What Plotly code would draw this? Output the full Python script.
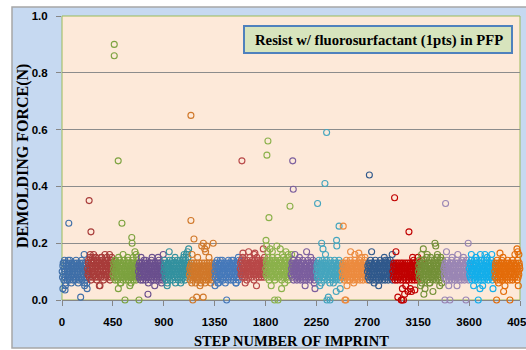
import plotly.graph_objects as go

# ---------------- data ----------------
group_size = 225
x_tick_labels = ["0", "450", "900", "1350", "1800", "2250", "2700", "3150", "3600", "4050"]
x_tick_vals = [0, 450, 900, 1350, 1800, 2250, 2700, 3150, 3600, 4050]
y_tick_vals = [0.0, 0.2, 0.4, 0.6, 0.8, 1.0]
y_tick_labels = ["0.0", "0.2", "0.4", "0.6", "0.8", "1.0"]

colors = ["#3F6FA8", "#A83C3A", "#7CA23F", "#6A4F8E", "#33919F", "#D0782A",
          "#4679BA", "#B84848", "#8BB14B", "#7B5E9E", "#45A5BE", "#EC8B3F",
          "#30598C", "#C00000", "#739038", "#9A86B4", "#14AEEA", "#E36C0A"]

# dense core readings per group of 225 imprints (force in 1/100 N)
core_g01 = "10 08 12 13 09 07 11 14 10 08 06 12 13 09 11 07 10 12 08 13 09 11 07 14 10 12 08 06 11 13 09 10 07 12 08 13 11 09 10 07 12 14 08 11 13 09 10 06 12 08 07 11 13 10 09 12 08 14 11 07 10 13 09 12 08 11 06 10 13 07 12 09 11 08 10"
core_g02 = "11 09 13 14 10 08 12 15 11 09 07 13 14 10 12 08 11 13 09 14 10 12 08 15 11 13 09 07 12 14 10 11 08 13 09 14 12 10 11 08 13 15 09 12 14 10 11 07 13 09 08 12 14 11 10 13 09 15 12 08 11 14 10 13 09 12 07 11 14 08 13 10 12 09 11"
core_g03 = "09 11 13 08 12 10 07 14 09 11 13 08 10 12 07 13 09 11 08 14 10 12 06 09 13 11 08 10 12 07 13 09 11 14 08 10 12 09 07 13 11 08 10 12 14 09 07 11 13 08 10 12 09 06 11 13 08 10 14 12 07 09 11 13 08 10 12 09 07 13 11 08 10 12 09"
core_g04 = "10 12 08 13 09 11 07 12 10 08 13 11 09 07 12 10 14 08 11 13 09 10 07 12 08 11 13 09 10 06 12 08 11 13 10 09 07 12 14 08 10 11 13 09 07 12 10 08 11 13 09 10 12 07 08 11 13 10 09 12 14 08 07 11 10 13 09 12 08 10 11 07 13 09 12"
core_g05 = "10 12 14 08 11 09 13 07 10 12 06 11 13 09 08 12 14 10 07 11 13 09 12 08 10 14 11 07 09 13 12 10 08 11 06 13 09 12 10 14 08 11 07 13 10 09 12 14 08 11 10 13 07 09 12 11 14 08 10 13 09 12 07 11 14 10 08 13 12 09 11 15 10 12 13"
core_g06 = "09 11 07 12 10 08 13 06 11 09 12 07 10 13 08 11 09 12 06 10 08 13 11 07 09 12 10 08 11 13 07 09 12 10 06 11 08 13 09 12 07 10 11 08 13 09 06 12 10 07 11 09 13 08 12 10 07 11 09 13 08 10 12 06 09 11 13 07 10 12 08 11 09 13 10"
core_g07 = "10 08 12 13 09 11 07 14 10 12 08 06 11 13 09 10 12 07 08 13 11 09 14 10 12 07 08 11 13 09 10 06 12 08 11 13 09 10 07 12 14 08 11 09 13 10 12 07 08 11 13 09 10 12 14 07 08 11 13 09 10 12 06 11 08 13 09 10 12 07 11 14 08 10 09"
core_g08 = "11 13 09 14 10 12 08 15 11 09 13 10 12 08 14 11 09 13 10 07 12 14 11 09 13 08 10 12 15 11 09 13 10 08 12 14 11 10 13 09 07 12 14 10 11 09 13 08 12 15 10 11 09 14 12 08 13 10 11 09 14 12 08 10 13 11 09 12 14 10 08 13 11 12 09"
core_g09 = "11 09 13 14 10 08 12 15 11 09 07 13 14 10 12 08 11 13 09 15 10 12 08 14 11 13 09 07 12 14 10 11 08 13 09 15 12 10 11 08 13 14 09 12 14 10 11 07 13 09 08 12 15 11 10 13 09 14 12 08 11 14 10 13 09 12 07 11 15 08 13 10 12 09 11"
core_g10 = "09 11 13 08 12 10 14 07 11 09 13 10 12 08 11 13 09 07 12 10 14 08 11 13 09 10 12 07 08 11 13 09 12 10 14 08 07 11 13 10 09 12 08 11 13 07 10 12 09 14 08 11 10 13 09 12 07 11 08 13 10 12 09 11 14 08 10 13 07 12 09 11 10 13 08"
core_g11 = "10 12 08 13 11 09 07 14 10 12 08 11 13 09 06 12 10 14 08 11 13 09 07 12 10 08 13 11 09 14 12 10 07 08 11 13 09 12 10 06 14 08 11 13 09 12 10 07 11 08 13 09 12 14 10 08 11 13 07 09 12 10 08 11 13 09 14 12 10 07 11 08 13 09 12"
core_g12 = "10 08 12 13 09 11 07 12 10 08 13 11 09 14 12 10 07 08 11 13 09 10 12 07 14 08 11 13 09 10 12 08 11 07 13 09 10 12 14 08 11 09 13 07 10 12 08 11 13 09 10 14 12 07 08 11 13 09 10 12 08 11 07 13 09 10 12 14 08 11 09 13 10 12 07"
core_g13 = "10 12 08 11 13 09 07 12 10 14 08 11 13 09 10 07 12 08 11 13 09 10 12 14 07 08 11 13 10 09 12 08 11 07 13 10 09 12 14 08 11 13 09 10 07 12 08 11 13 09 10 12 07 14 08 11 13 09 10 12 08 07 11 13 09 10 12 14 08 11 09 13 10 07 12"
core_g14 = "10 08 12 13 09 11 07 12 10 08 13 11 09 07 12 10 13 08 11 09 12 10 07 13 08 11 09 12 10 13 07 08 11 12 09 10 13 08 11 07 12 09 10 13 11 08 12 07 09 10 13 11 08 12 09 10 07 13 11 08 12 10 09 13 07 11 08 12 10 09 13 11 07 08 12"
core_g15 = "10 12 08 14 11 09 13 07 10 12 06 11 13 09 08 12 14 10 07 11 13 09 12 08 10 15 11 07 09 13 12 10 08 11 06 13 09 12 10 14 08 11 07 13 10 09 12 14 08 11 10 13 07 09 12 11 15 08 10 13 09 12 07 11 14 10 08 13 12 06 11 14 10 12 09"
core_g16 = "11 09 12 08 13 10 07 12 11 14 09 10 13 08 11 07 12 09 10 13 08 11 12 14 07 09 10 13 11 08 12 09 10 07 13 11 08 12 14 09 10 13 08 11 07 12 09 10 13 08 11 12 07 14 09 10 13 08 11 12 09 07 10 13 08 11 12 14 09 10 08 13 11 07 12"
core_g17 = "11 09 13 08 12 10 14 07 11 09 13 10 12 08 11 14 09 07 12 10 13 08 11 14 09 10 12 07 08 11 13 09 12 10 14 08 07 11 13 10 09 12 08 11 14 07 10 12 09 13 08 11 10 14 09 12 07 11 08 13 10 12 09 11 14 08 10 13 07 12 09 11 10 13 08"
core_g18 = "10 08 12 13 09 11 07 14 10 12 08 11 13 09 10 12 07 08 13 11 09 14 10 12 07 08 11 13 09 10 12 08 11 13 09 10 07 12 14 08 11 09 13 10 12 07 08 11 13 09 10 12 14 07 08 11 13 09 10 12 08 11 13 09 10 12 07 11 14 08 10 09 13 12 11"
core_strings = [core_g01, core_g02, core_g03, core_g04, core_g05, core_g06,
                core_g07, core_g08, core_g09, core_g10, core_g11, core_g12,
                core_g13, core_g14, core_g15, core_g16, core_g17, core_g18]

# scattered readings (step number, force N) per group
outlier_steps = [
    [60, 165, 196, 55, 15, 8, 222, 220, 30, 27, 200],
    [240, 256, 336, 250, 270, 300, 380, 350, 420, 440, 280, 330],
    [462, 462, 497, 530, 617, 620, 645, 655, 557, 681, 498, 500, 540, 580, 630, 470, 660, 600, 520],
    [760, 796, 895, 700, 850, 880, 740, 820],
    [948, 1120, 1100, 1080, 1000, 930, 1050, 1110, 1075],
    [1140, 1140, 1167, 1236, 1250, 1262, 1280, 1337, 1157, 1191, 1249, 1270, 1300, 1150, 1200, 1220],
    [1456, 1353, 1559, 1400, 1500, 1380, 1540],
    [1591, 1600, 1650, 1706, 1780, 1790, 1620, 1720, 1700],
    [1812, 1821, 1830, 2016, 1804, 1880, 1910, 1810, 1840, 1860, 1900, 1930, 1950, 1980, 2000, 2030, 1820, 1850, 1942, 1970],
    [2040, 2045, 2163, 2237, 2200, 2100, 2060, 2150, 2230],
    [2340, 2325, 2260, 2450, 2296, 2308, 2428, 2430, 2343, 2370, 2355, 2425, 2460, 2280, 2400, 2330],
    [2487, 2502, 2510, 2552, 2590, 2625, 2650, 2520, 2580, 2680],
    [2718, 2738, 2920, 2760, 2850, 2880, 2800],
    [2941, 3068, 2953, 2970, 3005, 3020, 3030, 3060, 3090, 3000, 3100, 3110, 3147, 3180, 3040, 3080, 3010, 3120],
    [3195, 3298, 3305, 3180, 3230, 3260, 3320, 3350, 3200, 3210, 3170, 3250, 3280, 3340],
    [3392, 3400, 3386, 3430, 3572, 3592, 3493, 3450, 3500, 3550, 3420],
    [3681, 3696, 3811, 3620, 3660, 3700, 3740, 3760, 3800, 3640, 3720],
    [4023, 4030, 3873, 3843, 3961, 3905, 3917, 4040, 4005, 3900, 4035, 3860],
]
outlier_vals = [
    [0.27, 0.01, 0.16, 0.14, 0.13, 0.04, 0.04, 0.06, 0.05, 0.035, 0.05],
    [0.35, 0.24, 0.05, 0.16, 0.15, 0.15, 0.16, 0.15, 0.16, 0.15, 0.16, 0.05],
    [0.90, 0.86, 0.49, 0.27, 0.22, 0.20, 0.17, 0.16, 0.0, 0.0, 0.04, 0.15, 0.16, 0.15, 0.15, 0.14, 0.15, 0.05, 0.06],
    [0.02, 0.15, 0.16, 0.15, 0.15, 0.06, 0.14, 0.05],
    [0.17, 0.18, 0.16, 0.16, 0.15, 0.05, 0.06, 0.17, 0.15],
    [0.65, 0.28, 0.215, 0.19, 0.20, 0.18, 0.19, 0.20, 0.0, 0.01, 0.01, 0.17, 0.15, 0.16, 0.15, 0.05],
    [0.0, 0.05, 0.15, 0.14, 0.14, 0.06, 0.06],
    [0.49, 0.165, 0.17, 0.165, 0.18, 0.15, 0.06, 0.05, 0.16],
    [0.51, 0.56, 0.29, 0.33, 0.21, 0.0, 0.0, 0.19, 0.18, 0.17, 0.19, 0.18, 0.16, 0.17, 0.16, 0.16, 0.17, 0.05, 0.04, 0.06],
    [0.49, 0.39, 0.17, 0.04, 0.15, 0.15, 0.16, 0.05, 0.06],
    [0.59, 0.41, 0.34, 0.26, 0.20, 0.18, 0.21, 0.19, 0.0, 0.0, 0.01, 0.03, 0.04, 0.05, 0.06, 0.16],
    [0.26, 0.0, 0.0, 0.17, 0.16, 0.165, 0.15, 0.05, 0.06, 0.15],
    [0.44, 0.17, 0.16, 0.06, 0.15, 0.14, 0.05],
    [0.36, 0.24, 0.17, 0.01, 0.0, 0.0, 0.02, 0.03, 0.03, 0.0, 0.15, 0.14, 0.15, 0.14, 0.05, 0.04, 0.04, 0.035],
    [0.18, 0.20, 0.19, 0.16, 0.16, 0.15, 0.16, 0.15, 0.02, 0.04, 0.05, 0.06, 0.03, 0.05],
    [0.34, 0.17, 0.0, 0.0, 0.0, 0.20, 0.05, 0.15, 0.16, 0.15, 0.05],
    [0.0, 0.04, 0.04, 0.16, 0.15, 0.16, 0.16, 0.15, 0.16, 0.05, 0.05],
    [0.18, 0.17, 0.165, 0.0, 0.0, 0.03, 0.05, 0.16, 0.16, 0.15, 0.05, 0.06],
]

# ---------------- figure ----------------
fig = go.Figure()
for g, s in enumerate(core_strings):
    vals = [int(v) / 100 for v in s.split()]
    n = len(vals)
    xs = [g * group_size + (i + 0.5) * group_size / n for i in range(n)]
    xs += outlier_steps[g]
    ys = vals + outlier_vals[g]
    fig.add_trace(go.Scatter(
        x=xs, y=ys, mode="markers", showlegend=False, cliponaxis=False,
        marker=dict(symbol="circle-open", size=6, color=colors[g],
                    line=dict(width=1.1, color=colors[g])),
    ))

# the page body margin is removed (post_script), so window pixel = figure pixel
W, H = 526, 350
win_left, win_right, win_top, win_bottom = 62, 520, 16, 300
ml, mt = win_left, win_top
mr, mb = W - win_right, H - win_bottom
pw, ph = W - ml - mr, H - mt - mb


def px(wx):
    return (wx - ml) / pw


def py(wy):
    return (H - mb - wy) / ph


fig.update_layout(
    width=W, height=H, autosize=False,
    margin=dict(l=ml, r=mr, t=mt, b=mb, pad=0, autoexpand=False),
    paper_bgcolor="white", plot_bgcolor="rgba(0,0,0,0)",
    shapes=[
        dict(type="rect", xref="paper", yref="paper", x0=px(12), x1=px(560), y0=py(348), y1=py(7),
             fillcolor="#C6D9F1", line=dict(color="#A6A6A6", width=1.5), layer="below"),
        dict(type="rect", xref="paper", yref="paper", x0=0, x1=1, y0=0, y1=1,
             fillcolor="#FDE9D9", line=dict(width=0), layer="below"),
        dict(type="rect", xref="paper", yref="paper", x0=0, x1=1, y0=0, y1=1,
             fillcolor="rgba(0,0,0,0)", line=dict(color="#9BBB59", width=1), layer="between"),
        dict(type="rect", xref="paper", yref="paper", x0=px(244), x1=px(512), y0=py(53), y1=py(26),
             fillcolor="#D7E4BD", line=dict(color="#4F81BD", width=2), layer="above"),
    ],
    xaxis=dict(range=[0, 4050], tickvals=x_tick_vals, ticktext=x_tick_labels, automargin=False,
               ticks="outside", ticklen=5, tickcolor="#868686", showgrid=False, zeroline=False,
               showline=True, linecolor="#868686", linewidth=1, layer="below traces",
               tickfont=dict(family="Liberation Sans", size=11.5, color="black", weight="bold"),
               ticklabelstandoff=6, ticklabeloverflow="allow"),
    yaxis=dict(range=[0, 1], tickvals=y_tick_vals, ticktext=y_tick_labels, automargin=False,
               ticks="outside", ticklen=5, tickcolor="#868686", showgrid=True, gridcolor="#8C8C8C",
               gridwidth=1, zeroline=False, showline=False, layer="below traces",
               tickfont=dict(family="Liberation Sans", size=11.5, color="black", weight="bold"),
               ticklabelstandoff=6, ticklabeloverflow="allow"),
    annotations=[
        dict(text="Resist w/ fluorosurfactant (1pts) in PFP", xref="paper", yref="paper",
             x=px(379), y=py(40), xanchor="center", yanchor="middle", showarrow=False,
             font=dict(family="Liberation Serif", size=14.7, color="black", weight="bold")),
        dict(text="DEMOLDING FORCE(N)", xref="paper", yref="paper", x=px(23), y=py(156),
             xanchor="center", yanchor="middle", textangle=-90, showarrow=False,
             font=dict(family="Liberation Serif", size=16, color="black", weight="bold")),
        dict(text="STEP NUMBER OF IMPRINT", xref="paper", yref="paper", x=px(291), y=py(341),
             xanchor="center", yanchor="middle", showarrow=False,
             font=dict(family="Liberation Serif", size=14.5, color="black", weight="bold")),
    ],
)

fig.write_html(
    "out.html",
    config={"displayModeBar": False},
    post_script="document.body.style.margin='0';document.body.style.overflow='hidden';",
)
